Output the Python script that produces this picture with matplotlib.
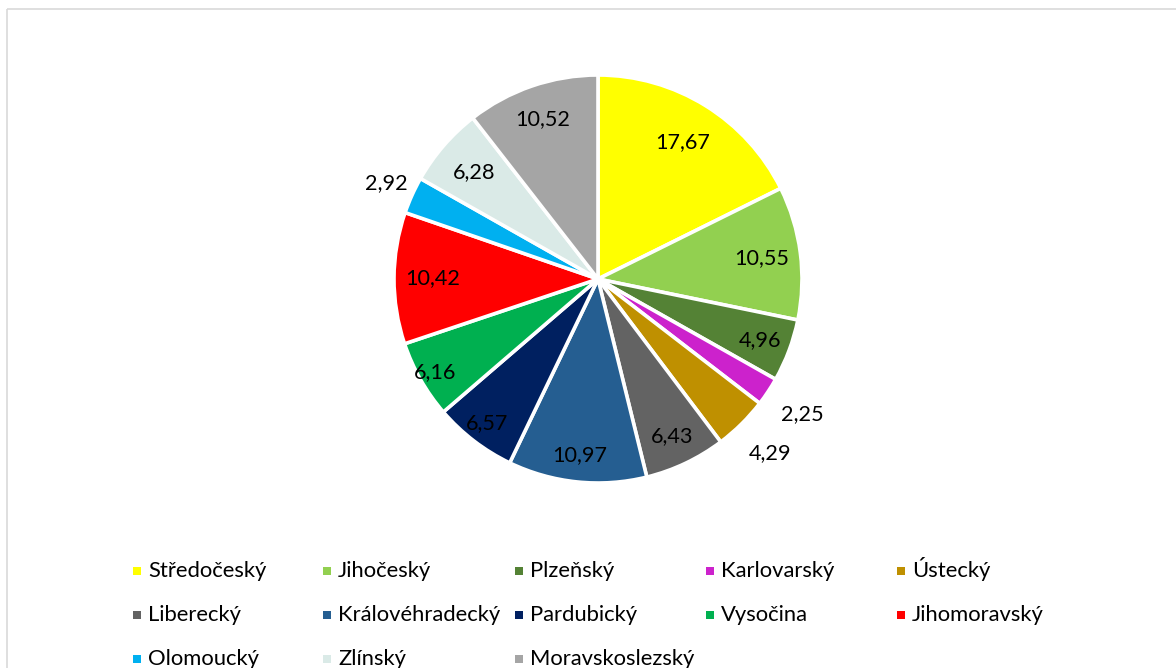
import numpy as np
import matplotlib
matplotlib.use("Agg")
import matplotlib.pyplot as plt
import matplotlib.patches as patches

# data
regions = ['Středočeský', 'Jihočeský', 'Plzeňský', 'Karlovarský', 'Ústecký',
           'Liberecký', 'Královéhradecký', 'Pardubický', 'Vysočina', 'Jihomoravský',
           'Olomoucký', 'Zlínský', 'Moravskoslezský']
values = [17.67, 10.55, 4.96, 2.25, 4.29, 6.43, 10.97, 6.57, 6.16, 10.42, 2.92, 6.28, 10.52]
colors = ['#FFFF00', '#92D050', '#548235', '#CC22CC', '#BF9000',
          '#636363', '#255E91', '#002060', '#00B050', '#FF0000',
          '#00B0F0', '#DAEAE7', '#A5A5A5']

# label distance from centre (pie radius = 1)
label_dist = [0.79, 0.81, 0.85, 1.20, 1.20, 0.85, 0.87, 0.89, 0.92, 0.81, 1.14, 0.80, 0.83]

W, H = 1176, 668
plt.rcParams['font.family'] = ['Lato', 'DejaVu Sans']
fig = plt.figure(figsize=(W / 100, H / 100), dpi=100)

# chart border
fig.patches.append(patches.Rectangle((7 / W, 1 - 9 / H), 2, -2, transform=fig.transFigure,
                                     fill=False, edgecolor='#D9D9D9', linewidth=1.2))

# pie
cx, cy, r = 598, 279, 204
ax = fig.add_axes([(cx - r) / W, (H - cy - r) / H, 2 * r / W, 2 * r / H])
ax.pie(values, colors=colors, startangle=90, counterclock=False, radius=1,
       wedgeprops=dict(edgecolor='white', linewidth=2.6))
ax.set_xlim(-1, 1)
ax.set_ylim(-1, 1)
ax.axis('off')

frac = np.array(values) / np.sum(values)
mid = np.cumsum(frac) - frac / 2
ang = np.deg2rad(90 - mid * 360)
for v, a, d in zip(values, ang, label_dist):
    ax.text(d * np.cos(a), d * np.sin(a), f'{v:.2f}'.replace('.', ','),
            ha='center', va='center', fontsize=15.6, color='black')

# legend, laid out like the original (5 columns)
col_x = [148, 338, 530, 721, 912]
row_y = [571, 615, 659]
for i, (name, c) in enumerate(zip(regions, colors)):
    x = col_x[i % 5]
    y = row_y[i // 5]
    fig.patches.append(patches.Rectangle(((x - 15) / W, 1 - (y + 4) / H), 8 / W, 8 / H,
                                         transform=fig.transFigure, facecolor=c, edgecolor='none'))
    fig.text(x / W, 1 - (y + 6) / H, name, ha='left', va='baseline', fontsize=15.8, color='black')

fig.savefig('out.png', dpi=100)
